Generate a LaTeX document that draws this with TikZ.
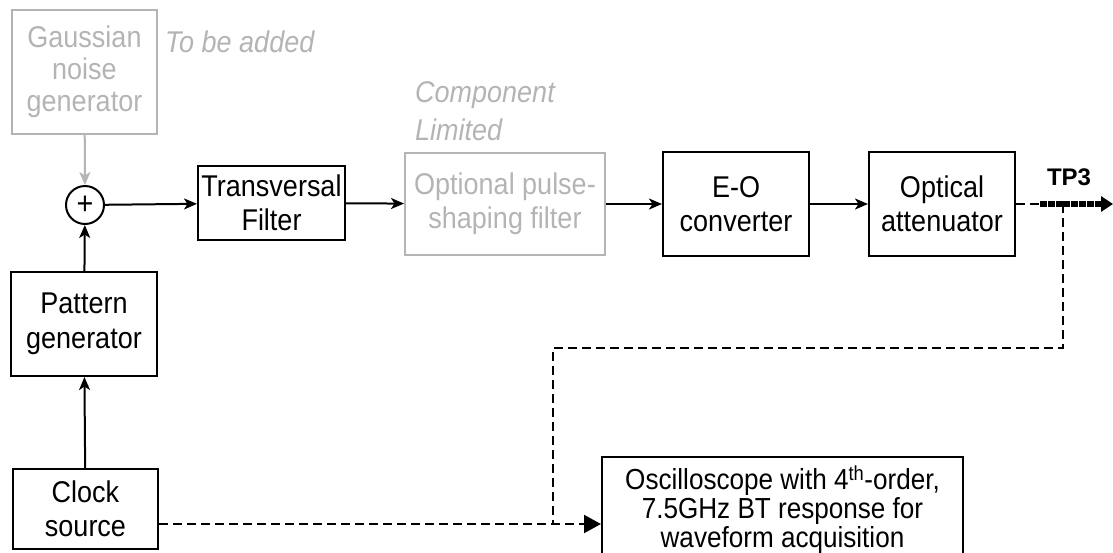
\documentclass[tikz,border=0pt]{standalone}
\usepackage{fontspec}
\setmainfont[FakeStretch=0.9]{Liberation Sans}
\newfontfamily\tpfont{Liberation Sans}
\usetikzlibrary{arrows.meta,calc}
\definecolor{lg}{HTML}{B4B4B4}
\tikzset{
  blk/.style={draw, line width=2pt, align=center, inner sep=0pt,
    font=\fontsize{30}{34}\selectfont},
  gblk/.style={blk, draw=lg, text=lg},
  note/.style={text=lg, inner sep=0pt, align=left, font=\fontsize{30}{38}\selectfont\itshape},
  conn/.style={line width=2pt, -{Stealth[length=13pt,width=11pt,inset=3.5pt]}},
  gconn/.style={conn, draw=lg, -{Stealth[length=13pt,width=11pt,inset=3.5pt,fill=lg]}},
  dsh/.style={line width=2pt, dash pattern=on 9pt off 5pt},
}
\begin{document}
\begin{tikzpicture}[x=1pt,y=-1pt]
\useasboundingbox (0,0) rectangle (1113,552);

\node[gblk, minimum width=145pt, minimum height=124pt, font=\fontsize{30}{32}\selectfont] (gauss) at (84.5,72) {Gaussian\\noise\\generator};
\node[note, anchor=west] (tobe) at (165,42) {To be added};
\node[draw, circle, line width=2pt, minimum size=38pt, inner sep=0pt, font=\fontsize{32}{32}\selectfont] (sum) at (85,205) {+};
\node[blk, minimum width=147pt, minimum height=74pt] (trans) at (271.5,203) {Transversal\\Filter};
\node[note, anchor=west] (comp) at (415,111) {Component\\Limited};
\node[gblk, minimum width=200pt, minimum height=102pt] (opt) at (505,204) {Optional pulse-\\shaping filter};
\node[blk, minimum width=146pt, minimum height=104pt] (eo) at (736,204) {E-O\\converter};
\node[blk, minimum width=146pt, minimum height=104pt] (att) at (942,204) {Optical\\attenuator};
\node[blk, minimum width=146pt, minimum height=104pt, font=\fontsize{30}{35}\selectfont] (pat) at (84,324) {Pattern\\generator};
\node[blk, minimum width=145pt, minimum height=80pt] (clk) at (85.5,509) {Clock\\source};
\node[blk, minimum width=361pt, minimum height=106pt, anchor=north,
  font=\fontsize{29}{29}\selectfont] (osc) at (782.5,456)
  {Oscilloscope with 4\textsuperscript{th}-order,\\7.5GHz BT response for\\waveform acquisition};
\node[inner sep=0pt, font=\fontsize{24}{24}\selectfont\tpfont\bfseries] (tp3) at (1069,177) {TP3};

\draw[gconn] (gauss) -- (sum);
\draw[conn] (pat) -- (sum);
\draw[conn] (clk) -- (pat);
\draw[conn] (sum) -- (trans);
\draw[conn] (trans) -- (opt);
\draw[conn] (opt) -- (eo);
\draw[conn] (eo) -- (att);

\coordinate (tp) at (1040,204);
\coordinate (tpe) at (1113,204);
\coordinate (tap) at (1063,204);
\coordinate (mid) at (553,348);
\coordinate (jn) at (553,524);
\path (clk.east) ++(0,15) coordinate (ck);

\draw[dsh] (att.east) -- (tp);
\draw[line width=6.5pt, dash pattern=on 7pt off 0.8pt, -{Triangle[length=12pt,width=15pt]}] (tp) -- (tpe);
\draw[dsh] (tap) |- (mid) -- (jn);
\draw[dsh, -{Triangle[length=17pt,width=18pt]}] (ck) -- (osc.west |- ck);
\end{tikzpicture}
\end{document}
